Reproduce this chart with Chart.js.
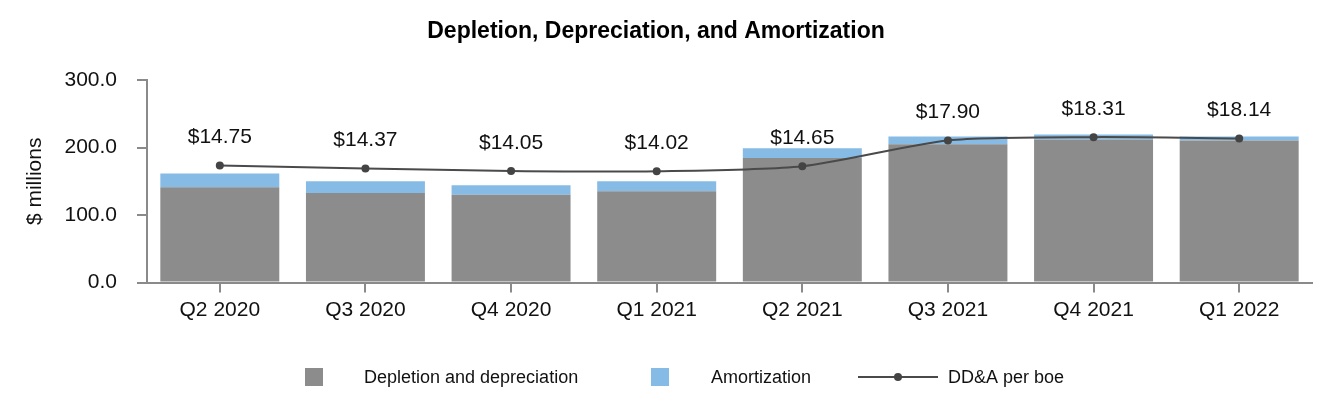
<!DOCTYPE html>
<html>
<head>
<meta charset="utf-8">
<script src="https://cdn.jsdelivr.net/npm/chart.js@4.4.1/dist/chart.umd.min.js"></script>
<style>
  html, body { margin: 0; padding: 0; background: #ffffff; }
  #wrap { width: 1332px; height: 420px; position: relative; }
</style>
</head>
<body>
<div id="wrap"><canvas id="c"></canvas></div>
<script>
const categories = ['Q2 2020', 'Q3 2020', 'Q4 2020', 'Q1 2021', 'Q2 2021', 'Q3 2021', 'Q4 2021', 'Q1 2022'];
const depletionAndDepreciation = [141.2, 132.5, 130.1, 135.4, 184.5, 204.8, 212.0, 210.5];
const amortization = [20.2, 17.4, 14.0, 14.5, 14.5, 11.5, 7.2, 5.8];
const ddaPerBoe = [14.75, 14.37, 14.05, 14.02, 14.65, 17.90, 18.31, 18.14];
const ddaLabels = ['$14.75', '$14.37', '$14.05', '$14.02', '$14.65', '$17.90', '$18.31', '$18.14'];
const yTickLabels = ['0.0', '100.0', '200.0', '300.0'];

const FONT = "'Liberation Sans', Arial, Helvetica, sans-serif";
const GRAY = '#8c8c8c';
const BLUE = '#86bbe5';
const LINE = '#4a4a4a';
const AXIS = '#8a8a8a';
const TEXT = '#111111';

Chart.defaults.font.family = FONT;

const valueLabels = {
  id: 'valueLabels',
  afterDatasetsDraw(chart) {
    const meta = chart.getDatasetMeta(2);
    const ctx = chart.ctx;
    ctx.save();
    ctx.font = '21px ' + FONT;
    ctx.fillStyle = TEXT;
    ctx.textAlign = 'center';
    ctx.textBaseline = 'middle';
    meta.data.forEach((pt, i) => {
      ctx.fillText(ddaLabels[i], pt.x, pt.y - 28);
    });
    ctx.restore();
  }
};

const customLegend = {
  id: 'customLegend',
  afterDraw(chart) {
    const ctx = chart.ctx;
    const ds = chart.data.datasets;
    const cy = 377;
    ctx.save();
    ctx.font = '18px ' + FONT;
    ctx.textBaseline = 'middle';
    ctx.textAlign = 'left';
    // Depletion and depreciation
    ctx.fillStyle = ds[0].backgroundColor;
    ctx.fillRect(305, 368, 18, 18);
    ctx.fillStyle = TEXT;
    ctx.fillText(ds[0].label, 364, cy + 1);
    // Amortization
    ctx.fillStyle = ds[1].backgroundColor;
    ctx.fillRect(651, 368, 18, 18);
    ctx.fillStyle = TEXT;
    ctx.fillText(ds[1].label, 711, cy + 1);
    // DD&A per boe
    ctx.strokeStyle = ds[2].borderColor;
    ctx.lineWidth = 2;
    ctx.beginPath();
    ctx.moveTo(858, cy);
    ctx.lineTo(938, cy);
    ctx.stroke();
    ctx.fillStyle = ds[2].pointBackgroundColor;
    ctx.beginPath();
    ctx.arc(898, cy, 4, 0, Math.PI * 2);
    ctx.fill();
    ctx.fillStyle = TEXT;
    ctx.fillText(ds[2].label, 948, cy + 1);
    ctx.restore();
  }
};

new Chart(document.getElementById('c'), {
  data: {
    labels: categories,
    datasets: [
      {
        type: 'bar',
        label: 'Depletion and depreciation',
        data: depletionAndDepreciation,
        backgroundColor: GRAY,
        borderWidth: 0,
        yAxisID: 'y',
        order: 1,
        barPercentage: 0.817,
        categoryPercentage: 1.0
      },
      {
        type: 'bar',
        label: 'Amortization',
        data: amortization,
        backgroundColor: BLUE,
        borderWidth: 0,
        yAxisID: 'y',
        order: 2,
        barPercentage: 0.817,
        categoryPercentage: 1.0
      },
      {
        type: 'line',
        label: 'DD&A per boe',
        data: ddaPerBoe,
        borderColor: LINE,
        borderWidth: 2,
        pointRadius: 4,
        pointBackgroundColor: '#444444',
        pointBorderWidth: 0,
        tension: 0.25,
        fill: false,
        yAxisID: 'y2',
        order: 0
      }
    ]
  },
  options: {
    responsive: true,
    maintainAspectRatio: false,
    animation: false,
    layout: { padding: { left: 0, right: 20, top: 0, bottom: 91.4 } },
    plugins: {
      legend: { display: false },
      tooltip: { enabled: false },
      title: {
        display: true,
        text: 'Depletion, Depreciation, and Amortization',
        color: '#000000',
        font: { family: FONT, size: 23, weight: 'bold' },
        padding: { top: 18, bottom: 34.4 }
      }
    },
    scales: {
      x: {
        stacked: true,
        grid: { display: true, drawOnChartArea: false, drawTicks: true, tickLength: 10, color: AXIS, lineWidth: 2, offset: false },
        border: { display: true, color: AXIS, width: 2 },
        ticks: { color: TEXT, font: { family: FONT, size: 21 }, padding: 5.4, maxRotation: 0, autoSkip: false }
      },
      y: {
        stacked: true,
        min: 0,
        max: 300,
        ticks: {
          stepSize: 100,
          padding: 20,
          color: TEXT,
          font: { family: FONT, size: 21 },
          callback: (v, i) => yTickLabels[i]
        },
        grid: { drawOnChartArea: false, drawTicks: true, tickLength: 10, color: AXIS, lineWidth: 2 },
        border: { display: true, color: AXIS, width: 2 },
        title: { display: true, text: '$ millions', color: TEXT, font: { family: FONT, size: 21 }, padding: { top: 22.4, bottom: 0 } },
        afterFit(scale) { scale.width = 147; }
      },
      y2: {
        display: false,
        min: 0,
        max: 25.5,
        position: 'right',
        stacked: false
      }
    }
  },
  plugins: [valueLabels, customLegend]
});
</script>
</body>
</html>
